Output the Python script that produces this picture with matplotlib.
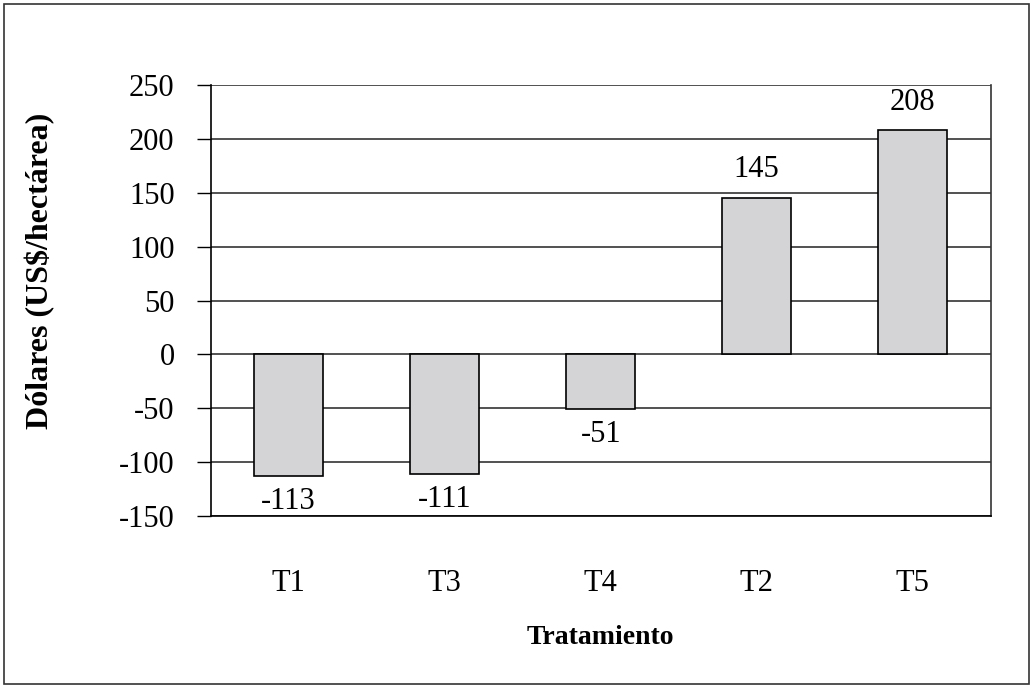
import matplotlib
matplotlib.use("Agg")
import matplotlib.pyplot as plt
from matplotlib.patches import Rectangle

# Net returns per treatment (US$/ha)
treatments = ["T1", "T3", "T4", "T2", "T5"]
values = [-113, -111, -51, 145, 208]
yticks = [-150, -100, -50, 0, 50, 100, 150, 200, 250]

plt.rcParams["font.family"] = ["Liberation Serif", "DejaVu Serif"]
plt.rcParams["axes.unicode_minus"] = False

fig = plt.figure(figsize=(10.33, 6.87), dpi=100)
ax = fig.add_axes([0.204, 0.249, 0.755, 0.627])

x = range(len(treatments))
bars = ax.bar(x, values, width=0.44, color="#d4d4d6", edgecolor="black",
              linewidth=1.2, zorder=3)

for xi, v in zip(x, values):
    if v < 0:
        ax.annotate(str(v), (xi, v), xytext=(0, -8), textcoords="offset points",
                    ha="center", va="top", fontsize=22)
    else:
        ax.annotate(str(v), (xi, v), xytext=(0, 10), textcoords="offset points",
                    ha="center", va="bottom", fontsize=22)

ax.set_xlim(-0.5, len(treatments) - 0.5)
ax.set_ylim(-150, 250)
ax.set_yticks(yticks)
ax.set_xticks(list(x))
ax.set_xticklabels(treatments)
ax.tick_params(axis="y", labelsize=22, length=10, width=1, direction="out", pad=16)
ax.tick_params(axis="x", labelsize=22, length=0, pad=38)
ax.yaxis.grid(True, color="#222222", linewidth=1.1, zorder=0)
ax.set_axisbelow(True)
for s in ["left", "bottom", "right"]:
    ax.spines[s].set_linewidth(1.2)
ax.spines["top"].set_visible(False)
ax.spines["right"].set_color("#333333")

ax.set_ylabel("Dólares (US\\$/hectárea)", fontsize=23, fontweight="bold")
ax.yaxis.set_label_coords(-0.2, 0.568)
ax.set_xlabel("Tratamiento", fontsize=20, fontweight="bold", labelpad=20)

# outer frame around the figure
fig.patches.append(Rectangle((0.004, 0.004), 0.992, 0.990, transform=fig.transFigure,
                             fill=False, edgecolor="#333333", linewidth=1.2))

fig.savefig("out.png", dpi=100)
